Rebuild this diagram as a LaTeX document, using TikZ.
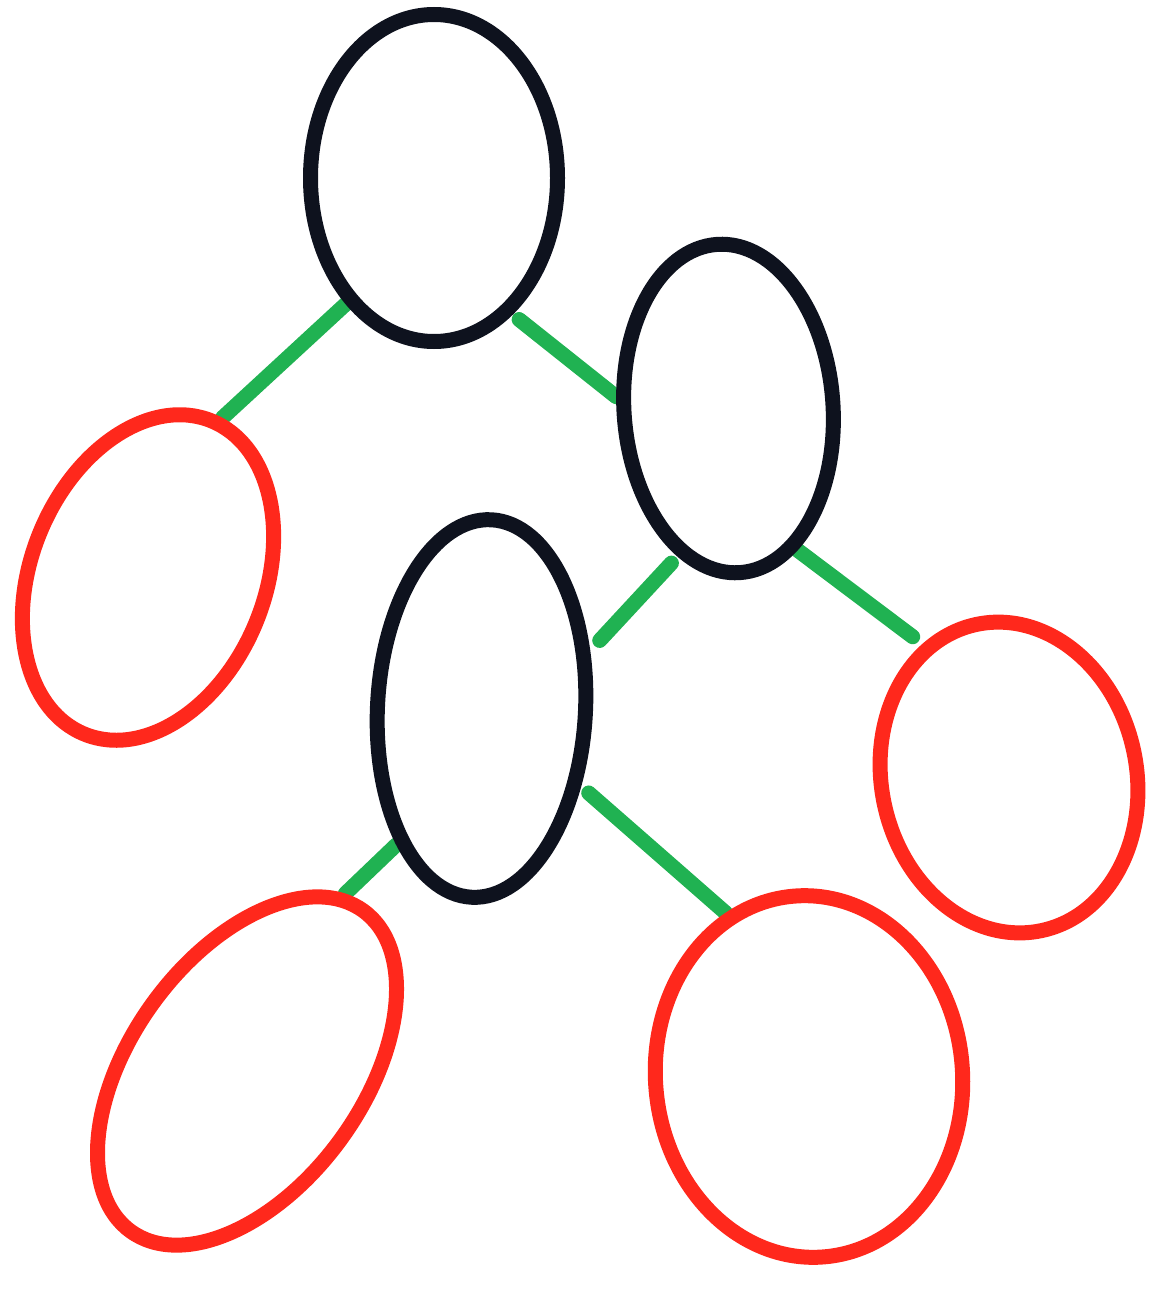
\documentclass[tikz,border=0pt]{standalone}
\usetikzlibrary{shapes.geometric}
\definecolor{inkblack}{RGB}{14,18,30}
\definecolor{inkred}{RGB}{255,40,28}
\definecolor{inkgreen}{RGB}{32,178,82}
\pgfdeclarelayer{links}
\pgfsetlayers{links,main}
\begin{document}
\begin{tikzpicture}[x=1pt,y=-1pt,
  blob/.style={ellipse, draw, line width=15pt, inner sep=0pt},
  innernode/.style={blob, draw=inkblack},
  leafnode/.style={blob, draw=inkred},
  link/.style={draw=inkgreen, line width=15pt, line cap=round}]
\useasboundingbox (0,0) rectangle (1154,1295);
% internal (black) nodes
\node[innernode, minimum width=247pt, minimum height=327pt] (top) at (434,178) {};
\node[innernode, rotate=4, minimum width=209pt, minimum height=329pt] (rb) at (728.5,408.5) {};
\node[innernode, rotate=-3, minimum width=208pt, minimum height=378pt] (mb) at (481.5,708.5) {};
% leaves (red)
\node[leafnode, rotate=-22, minimum width=234pt, minimum height=338pt] (lr) at (148,577.5) {};
\node[leafnode, rotate=12, minimum width=255pt, minimum height=313pt] (rr) at (1009,777.5) {};
\node[leafnode, rotate=-36, minimum width=232pt, minimum height=396pt] (bl) at (247,1071) {};
\node[leafnode, rotate=5, minimum width=307pt, minimum height=362pt] (br) at (809,1076.5) {};
% connectors
\begin{pgfonlayer}{links}
\draw[link] (top.235) -- (lr.87);
\draw[link, shorten <=8pt] (top.300) -- (rb.170);
\draw[link, shorten <=9pt, shorten >=14pt] (rb.247) -- (mb.31);
\draw[link, shorten >=12pt] (rb.292) -- (rr.111);
\draw[link] (mb.241) -- (bl.97);
\draw[link, shorten <=10pt] (mb.325) -- (br.112);
\end{pgfonlayer}
\end{tikzpicture}
\end{document}
